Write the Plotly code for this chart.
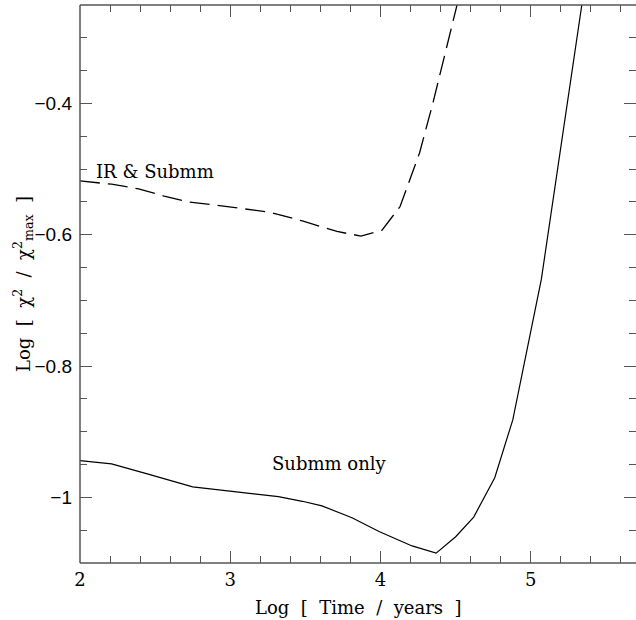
import plotly.graph_objects as go

# Log time (years) and log normalised chi-squared for the two fits
submm_logt = [2.0, 2.21, 2.43, 2.75, 3.32, 3.48, 3.61, 3.81, 3.99, 4.21, 4.37,
              4.50, 4.62, 4.76, 4.88, 4.99, 5.07, 5.34]
submm_chi = [-0.944, -0.949, -0.963, -0.984, -0.999, -1.006, -1.013, -1.031,
             -1.052, -1.074, -1.085, -1.060, -1.030, -0.970, -0.882, -0.755,
             -0.668, -0.249]

irsub_logt = [2.0, 2.21, 2.39, 2.56, 2.72, 2.98, 3.27, 3.48, 3.71, 3.87, 4.01,
              4.13, 4.26, 4.35, 4.51]
irsub_chi = [-0.518, -0.523, -0.530, -0.541, -0.550, -0.557, -0.566, -0.579,
             -0.595, -0.602, -0.593, -0.557, -0.475, -0.398, -0.249]

x_range = [2.0, 5.7]
y_range = [-1.1, -0.25]

SERIF = "DejaVu Serif"
SANS = "Liberation Sans"
AXIS_COLOR = "#555555"

fig = go.Figure()
fig.add_trace(go.Scatter(x=submm_logt, y=submm_chi, mode="lines",
                         line=dict(color="black", width=1.2),
                         showlegend=False, hoverinfo="skip"))
fig.add_trace(go.Scatter(x=irsub_logt, y=irsub_chi, mode="lines",
                         line=dict(color="black", width=1.3, dash="20px,8px"),
                         showlegend=False, hoverinfo="skip"))

axis_common = dict(
    showgrid=False, zeroline=False, showline=False,
    mirror="allticks", ticks="inside", ticklen=12,
    tickwidth=1.3, tickcolor=AXIS_COLOR,
)

fig.update_xaxes(range=x_range, dtick=1, tick0=2, ticklabelstandoff=4,
                 tickfont=dict(family=SERIF, size=18, color="black"),
                 minor=dict(ticks="inside", dtick=0.2, ticklen=7,
                            tickwidth=1.2, tickcolor=AXIS_COLOR),
                 **axis_common)
fig.update_yaxes(range=y_range, dtick=0.2, tick0=-1, ticklabelstandoff=7,
                 tickfont=dict(family=SANS, size=19, color="black"),
                 minor=dict(ticks="inside", dtick=0.05, ticklen=7,
                            tickwidth=1.2, tickcolor=AXIS_COLOR),
                 **axis_common)

# Frame on the left, bottom and top edges of the plotting area
frame = dict(type="line", xref="paper", yref="paper",
             line=dict(color=AXIS_COLOR, width=1.5))
fig.add_shape(x0=0, x1=0, y0=0, y1=1, **frame)
fig.add_shape(x0=0, x1=1, y0=0, y1=0, **frame)
fig.add_shape(x0=0, x1=1, y0=1, y1=1, **frame)

fig.add_annotation(text="IR &amp; Submm", x=2.5, y=-0.504, xref="x", yref="y",
                   showarrow=False, font=dict(family=SERIF, size=18, color="black"))
fig.add_annotation(text="Submm only", x=3.66, y=-0.948, xref="x", yref="y",
                   showarrow=False, font=dict(family=SERIF, size=18, color="black"))

fig.add_annotation(text="Log  [  Time  /  years  ]", xref="paper", yref="paper",
                   x=0.5, y=0, yshift=-44, xanchor="center", yanchor="middle",
                   showarrow=False,
                   font=dict(family=SERIF, size=18, color="black"))
fig.add_annotation(text="Log  [  χ<sup>2</sup>  /  χ<sup>2</sup><sub>max</sub>  ]",
                   xref="paper", yref="paper", x=0, xshift=-57, y=0.5,
                   xanchor="center", yanchor="middle",
                   textangle=-90, showarrow=False,
                   font=dict(family=SERIF, size=18, color="black"))

fig.update_layout(
    width=636, height=620,
    margin=dict(l=80, r=0, t=5, b=57),
    paper_bgcolor="white", plot_bgcolor="white",
)

fig.write_html("out.html")
